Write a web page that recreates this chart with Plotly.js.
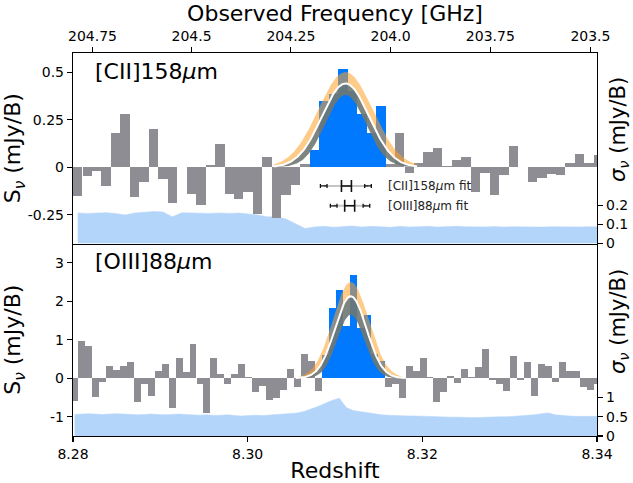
<!DOCTYPE html>
<html>
<head>
<meta charset="utf-8">
<script src="https://cdn.plot.ly/plotly-3.0.1.min.js"></script>
<style>html,body{margin:0;padding:0;background:#fff;}#chart{width:633px;height:483px;}</style>
</head>
<body>
<div id="chart"></div>
<script>
// ---------------- DATA ----------------
// [CII]158um channels (redshift) and flux (mJy/beam)
const ciiZ = [8.28054,8.28163,8.28271,8.28380,8.28488,8.28596,8.28705,8.28813,8.28922,8.29030,
  8.29139,8.29247,8.29355,8.29464,8.29572,8.29681,8.29789,8.29898,8.30006,8.30115,
  8.30223,8.30331,8.30440,8.30548,8.30657,8.30765,8.30874,8.30982,8.31091,8.31199,
  8.31307,8.31416,8.31524,8.31633,8.31741,8.31850,8.31958,8.32067,8.32175,8.32283,
  8.32392,8.32500,8.32609,8.32717,8.32826,8.32934,8.33042,8.33151,8.33259,8.33368,
  8.33476,8.33585,8.33693,8.33802,8.33910,8.34018];
const ciiFlux = [-0.153,-0.044,-0.020,-0.097,0.178,0.278,-0.158,-0.079,0.199,-0.062,
  -0.185,0.003,-0.139,-0.200,0.014,0.120,-0.139,-0.164,-0.132,-0.245,
  0.056,-0.264,-0.143,-0.092,0.015,0.090,0.350,0.387,0.515,0.400,
  0.280,0.180,0.320,0.018,0.178,-0.030,0.023,0.081,0.102,0.005,
  0.040,0.055,-0.132,-0.030,-0.144,-0.039,0.114,0.000,-0.079,-0.058,
  -0.033,-0.039,0.023,0.072,0.023,0.062];
const ciiNoise = [0.160,0.158,0.160,0.162,0.158,0.150,0.160,0.164,0.168,0.166,
  0.140,0.162,0.160,0.158,0.158,0.160,0.158,0.160,0.156,0.150,
  0.140,0.140,0.128,0.105,0.079,0.087,0.090,0.085,0.088,0.092,
  0.086,0.090,0.088,0.085,0.090,0.086,0.088,0.090,0.086,0.088,
  0.090,0.088,0.086,0.087,0.089,0.086,0.088,0.087,0.085,0.086,
  0.088,0.087,0.086,0.087,0.088,0.088];
const ciiLineChannels = [25,26,27,28,29,30,31,32];

// [OIII]88um channels
const oiiiZ = [8.28018,8.28098,8.28177,8.28257,8.28337,8.28417,8.28496,8.28576,8.28656,8.28736,
  8.28816,8.28895,8.28975,8.29055,8.29135,8.29215,8.29295,8.29374,8.29454,8.29534,
  8.29614,8.29694,8.29773,8.29853,8.29933,8.30013,8.30092,8.30172,8.30252,8.30332,
  8.30412,8.30491,8.30571,8.30651,8.30731,8.30811,8.30890,8.30970,8.31050,8.31130,
  8.31210,8.31289,8.31369,8.31449,8.31529,8.31609,8.31688,8.31768,8.31848,8.31928,
  8.32008,8.32087,8.32167,8.32247,8.32327,8.32406,8.32486,8.32566,8.32646,8.32726,
  8.32805,8.32885,8.32965,8.33045,8.33125,8.33204,8.33284,8.33364,8.33444,8.33524,
  8.33603,8.33683,8.33763,8.33843,8.33923,8.34002];
const oiiiFlux = [-0.58,0.96,0.85,-0.49,-0.10,0.33,0.22,0.33,0.43,-0.62,
  -0.15,-0.47,0.20,0.37,-0.76,0.52,0.17,0.90,-0.16,-0.89,
  0.52,0.11,-0.16,0.11,0.37,0.04,-0.36,-0.19,-0.56,-0.51,
  -0.30,0.24,-0.23,0.63,0.44,-0.34,0.60,1.82,2.28,1.37,
  2.67,1.30,1.63,0.62,0.45,-0.24,-0.16,-0.52,0.33,0.20,
  0.53,0.04,-0.62,-0.36,0.07,-0.13,0.24,0.04,0.29,0.76,
  -0.04,-0.16,-0.34,0.59,-0.04,0.42,-0.45,0.36,0.33,-0.10,
  0.43,0.18,0.20,-0.23,-0.30,-0.15];
const oiiiNoise = [0.56,0.57,0.58,0.57,0.56,0.57,0.58,0.57,0.56,0.55,
  0.56,0.57,0.56,0.55,0.56,0.57,0.56,0.55,0.54,0.55,
  0.53,0.54,0.55,0.53,0.52,0.53,0.54,0.53,0.55,0.56,
  0.57,0.58,0.60,0.64,0.70,0.77,0.85,0.93,0.98,0.74,
  0.66,0.63,0.61,0.58,0.55,0.54,0.53,0.53,0.52,0.52,
  0.51,0.51,0.50,0.50,0.49,0.49,0.48,0.48,0.48,0.49,
  0.49,0.50,0.50,0.51,0.52,0.53,0.55,0.58,0.60,0.55,
  0.53,0.52,0.51,0.51,0.51,0.51];
const oiiiLineChannels = [36,37,38,39,40,41,42,43,44];

// Gaussian fits: [lower, best, upper]
const ciiFitCenter = 8.3112;
const ciiFitAmp = [0.38, 0.44, 0.50];
const ciiFitSigma = [0.0023, 0.0027, 0.0031];
const oiiiFitCenter = 8.3118;
const oiiiFitAmp = [1.65, 2.13, 2.50];
const oiiiFitSigma = [0.00155, 0.0018, 0.00205];

// fit summary markers (centre +- err, line-width edges +- err)
const fitNames = ['[CII]158<i>μ</i>m fit', '[OIII]88<i>μ</i>m fit'];
const fitCentre = [8.31131, 8.31168];
const fitCentreErr = [0.00057, 0.00057];
const fitLeft = [8.30871, 8.30985];
const fitRight = [8.31378, 8.31360];
const fitEdgeErr = [0.00038, 0.00038];
const fitRowY = [-0.098, -0.202];

// top axis: observed frequency
const restFreqCII = 1900.5369;
const freqTicks = [204.75, 204.5, 204.25, 204.0, 203.75, 203.5];
const freqTickText = ['204.75','204.5','204.25','204.0','203.75','203.5'];
const zTicks = [8.28, 8.30, 8.32, 8.34];
const zTickText = ['8.28','8.30','8.32','8.34'];

// ---------------- STYLE ----------------
const GRAY = '#8e8d93', BLUE = '#0079ff', NOISE = 'rgb(180,213,250)';
const ORANGE = 'rgba(255,160,40,0.55)', BAND = 'rgba(112,120,114,0.9)';
const FONT = 'DejaVu Sans, Arial, sans-serif';

function gauss(z, A, mu, s){ return A*Math.exp(-(z-mu)*(z-mu)/(2*s*s)); }
function curve(mu, A, s, half){
  const xs=[], ys=[]; const n=240;
  for(let i=0;i<=n;i++){ const z=mu-half+2*half*i/n; xs.push(z); ys.push(gauss(z,A,mu,s)); }
  return {xs, ys};
}
function fitTraces(mu, amps, sigs, half, xa, ya){
  const lo=curve(mu,amps[0],sigs[0],half), be=curve(mu,amps[1],sigs[1],half), up=curve(mu,amps[2],sigs[2],half);
  const base={type:'scatter',mode:'lines',xaxis:xa,yaxis:ya,hoverinfo:'skip',showlegend:false};
  return [
    Object.assign({},base,{x:be.xs,y:be.ys,line:{width:0,color:'rgba(0,0,0,0)'}}),
    Object.assign({},base,{x:up.xs,y:up.ys,line:{width:0,color:'rgba(0,0,0,0)'},fill:'tonexty',fillcolor:ORANGE}),
    Object.assign({},base,{x:lo.xs,y:lo.ys,line:{width:0,color:'rgba(0,0,0,0)'}}),
    Object.assign({},base,{x:be.xs,y:be.ys,line:{width:0,color:'rgba(0,0,0,0)'},fill:'tonexty',fillcolor:BAND}),
    Object.assign({},base,{x:be.xs,y:be.ys,line:{width:2,color:'#ffffff'}})
  ];
}
function colors(n, lineIdx){ const c=[]; for(let i=0;i<n;i++) c.push(lineIdx.indexOf(i)>=0?BLUE:GRAY); return c; }

const traces = [];
// top panel
traces.push({type:'scatter',mode:'lines',x:ciiZ,y:ciiNoise,xaxis:'x2',yaxis:'y',fill:'tozeroy',fillcolor:NOISE,line:{color:NOISE,width:0.5},showlegend:false});
traces.push({type:'bar',x:ciiZ,y:ciiFlux,width:0.0010844,xaxis:'x2',yaxis:'y2',marker:{color:colors(ciiZ.length,ciiLineChannels),line:{width:0}},showlegend:false});
fitTraces(ciiFitCenter,ciiFitAmp,ciiFitSigma,0.0082,'x2','y2').forEach(t=>traces.push(t));
for(let i=0;i<fitNames.length;i++){
  traces.push({type:'scatter',mode:'lines',x:[fitLeft[i],fitRight[i]],y:[fitRowY[i],fitRowY[i]],xaxis:'x2',yaxis:'y2',line:{color:'#c4c4c4',width:2},showlegend:false});
  traces.push({type:'scatter',mode:'markers',x:[fitLeft[i],fitRight[i]],y:[fitRowY[i],fitRowY[i]],xaxis:'x2',yaxis:'y2',marker:{size:1,color:'rgba(0,0,0,0)'},
    error_x:{type:'constant',value:fitEdgeErr[i],color:'#111',thickness:1.3,width:2},showlegend:false});
  traces.push({type:'scatter',mode:'markers',x:[fitCentre[i]],y:[fitRowY[i]],xaxis:'x2',yaxis:'y2',marker:{size:1,color:'rgba(0,0,0,0)'},
    error_x:{type:'constant',value:fitCentreErr[i],color:'#111',thickness:1.6,width:6},showlegend:false});
}
// bottom panel
traces.push({type:'scatter',mode:'lines',x:oiiiZ,y:oiiiNoise,xaxis:'x',yaxis:'y3',fill:'tozeroy',fillcolor:NOISE,line:{color:NOISE,width:0.5},showlegend:false});
traces.push({type:'bar',x:oiiiZ,y:oiiiFlux,width:0.000798,xaxis:'x',yaxis:'y4',marker:{color:colors(oiiiZ.length,oiiiLineChannels),line:{width:0}},showlegend:false});
fitTraces(oiiiFitCenter,oiiiFitAmp,oiiiFitSigma,0.0063,'x','y4').forEach(t=>traces.push(t));

const ax = {ticks:'outside',ticklen:5,tickwidth:1.1,tickcolor:'#000',showline:true,linecolor:'#000',linewidth:1.2,
  showgrid:false,zeroline:false,tickfont:{size:14,color:'#000',family:FONT}};
const split = 0.5026;
const layout = {
  width:633,height:483,margin:{l:73,r:36,t:53,b:47},paper_bgcolor:'#fff',plot_bgcolor:'rgba(0,0,0,0)',
  font:{family:FONT,color:'#000'},showlegend:false,bargap:0,
  xaxis:Object.assign({},ax,{domain:[0,1],anchor:'y3',range:[8.28,8.34],tickvals:zTicks,ticktext:zTickText,mirror:false,
    title:{text:'Redshift',font:{size:22},standoff:2}}),
  xaxis2:Object.assign({},ax,{domain:[0,1],anchor:'y',side:'top',range:[8.28,8.34],
    tickvals:freqTicks.map(f=>restFreqCII/f-1),ticktext:freqTickText,mirror:true,
    title:{text:'Observed Frequency [GHz]',font:{size:22},standoff:0}}),
  yaxis:Object.assign({},ax,{domain:[split,1],anchor:'x2',side:'right',range:[0,1],tickvals:[0,0.1,0.2],ticktext:['0','0.1','0.2']}),
  yaxis2:Object.assign({},ax,{overlaying:'y',anchor:'x2',side:'left',range:[-0.4,0.6],tickvals:[-0.25,0,0.25,0.5],ticktext:['-0.25','0','0.25','0.5'],
    title:{text:'S<sub><i>ν</i></sub> (mJy/B)',font:{size:22},standoff:2}}),
  yaxis3:Object.assign({},ax,{domain:[0,split],anchor:'x',side:'right',range:[0,5],tickvals:[0,0.5,1],ticktext:['0','0.5','1']}),
  yaxis4:Object.assign({},ax,{overlaying:'y3',anchor:'x',side:'left',range:[-1.5,3.5],tickvals:[-1,0,1,2,3],ticktext:['-1','0','1','2','3'],
    title:{text:'S<sub><i>ν</i></sub> (mJy/B)',font:{size:22},standoff:24}}),
  annotations:[
    {xref:'x2 domain',yref:'y domain',x:0.038,y:0.905,xanchor:'left',yanchor:'middle',showarrow:false,text:'[CII]158<i>μ</i>m',font:{size:22,color:'#000'}},
    {xref:'x domain',yref:'y3 domain',x:0.038,y:0.904,xanchor:'left',yanchor:'middle',showarrow:false,text:'[OIII]88<i>μ</i>m',font:{size:22,color:'#000'}},
    {xref:'x2',yref:'y2',x:8.31589,y:fitRowY[0],xanchor:'left',yanchor:'middle',showarrow:false,text:fitNames[0],font:{size:12,color:'#222'}},
    {xref:'x2',yref:'y2',x:8.31589,y:fitRowY[1],xanchor:'left',yanchor:'middle',showarrow:false,text:fitNames[1],font:{size:12,color:'#222'}},
    {xref:'paper',yref:'paper',x:1.042,y:0.799,xanchor:'center',yanchor:'middle',textangle:-90,showarrow:false,text:'<i>σ</i><sub><i>ν</i></sub> (mJy/B)',font:{size:21,color:'#000'}},
    {xref:'paper',yref:'paper',x:1.042,y:0.2977,xanchor:'center',yanchor:'middle',textangle:-90,showarrow:false,text:'<i>σ</i><sub><i>ν</i></sub> (mJy/B)',font:{size:21,color:'#000'}}
  ]
};
Plotly.newPlot('chart',traces,layout,{staticPlot:true,displayModeBar:false});
</script>
</body>
</html>
